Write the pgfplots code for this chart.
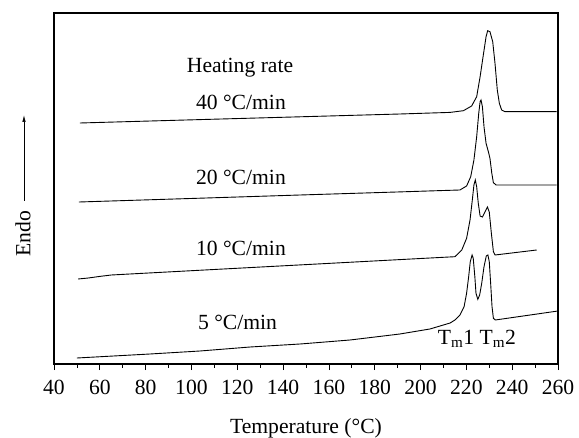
\documentclass[border=0pt]{standalone}
\usepackage{pgfplots}
\pgfplotsset{compat=1.18}
\usepackage{pgfplotstable}
\usepackage{fontspec}
\setmainfont{Liberation Serif}
\usetikzlibrary{arrows.meta}

% DSC melting endotherms at four heating rates (offset vertically)
\pgfplotstableread{
T y
51.3 241
103.7 244.4
147.4 247.2
191.0 250
212.9 251.6
218.7 253.3
222.3 258
224.5 267.3
226.0 287.3
227.4 309
228.6 327.3
229.3 333.3
230.3 332.3
231.5 322.3
232.5 300.7
233.5 274
234.4 260.7
235.4 254
236.9 252.3
259.4 252.3
}\rateforty

\pgfplotstableread{
T y
50.9 162
103.7 165.8
147.4 169
191.0 172.1
210 173.5
217.2 174
220.1 178
221.9 187.3
223.3 204
224.5 227.3
225.4 250.7
226.0 262.3
226.4 264
227.0 257.3
227.7 237.3
228.6 220.7
229.6 212.3
230.3 205.7
231.1 190.7
231.8 181.3
233.0 179
259.4 179
}\ratetwenty

\pgfplotstableread{
T y
50.5 85
55 86
60 87.6
65 89
100 93.3
150 99.4
200 105.5
215.0 107.3
218.0 114
220.1 125.7
221.6 144
222.6 164
223.3 179
223.9 184
224.5 177.3
225.2 160.7
226.0 148
227.0 147
228.1 152
229.2 157
230.0 152
230.9 131
231.8 112.3
232.5 109
250.7 114
}\rateten

\pgfplotstableread{
T y
50 6
81.9 10
103.7 13
125.6 17
147.4 20
169.2 24
191 30
204.1 35
212.9 41
215.0 44
217.2 49
219.0 57.3
220.1 70.7
221.0 87.3
221.7 102.3
222.5 109
223.0 105.7
223.7 87.3
224.2 70.7
225.0 64.7
225.8 69
226.7 80.7
227.7 97.3
228.7 108
229.4 109
230.0 102.3
230.6 80.7
231.2 57.3
231.8 45.7
232.6 44
260 53
}\ratefive

\begin{document}
\begin{tikzpicture}[font=\fontsize{21.7}{26}\selectfont]
\begin{axis}[
  scale only axis,
  width=504bp, height=351bp,
  xmin=40, xmax=260, ymin=0, ymax=351,
  xtick distance=20,
  minor x tick num=1,
  ytick=\empty,
  xtick pos=bottom,
  tick align=outside,
  major tick length=6bp,
  minor tick length=3.5bp,
  axis line style={line width=1.1bp},
  every tick/.style={black, line width=0.8bp},
  /pgf/number format/assume math mode=true,
  xticklabel style={font=\fontsize{21.7}{26}\selectfont, yshift=-7bp},
  xlabel={Temperature (°C)},
  xlabel style={font=\fontsize{21.7}{26}\selectfont,
    at={(axis description cs:0.5,0)}, anchor=base, yshift=-69bp},
  clip=false,
]
\addplot[black, line width=0.9bp] table[x=T, y=y] {\rateforty};
\addplot[black, line width=0.9bp] table[x=T, y=y] {\ratetwenty};
\addplot[black, line width=0.9bp] table[x=T, y=y] {\rateten};
\addplot[black, line width=0.9bp] table[x=T, y=y] {\ratefive};

\node at (axis cs:121.2,296) {Heating rate};
\node at (axis cs:121.6,262) {40 °C/min};
\node at (axis cs:121.6,187) {20 °C/min};
\node at (axis cs:121.6,116) {10 °C/min};
\node at (axis cs:120.1,42) {5 °C/min};
\node[anchor=base] at (axis cs:224.6,20) {T\textsubscript{m}1 T\textsubscript{m}2};

\node[rotate=90] at ([xshift=-31bp]axis cs:40,130.5) {Endo};
\draw[-{Latex[length=7bp,width=3.5bp]}, line width=0.7bp]
  ([xshift=-30bp]axis cs:40,163) -- ([xshift=-30bp]axis cs:40,249);

\coordinate (SW) at (rel axis cs:0,0);
\coordinate (NE) at (rel axis cs:1,1);
\end{axis}
\pgfresetboundingbox
\path ([shift={(-54bp,-74bp)}]SW) rectangle ([shift={(21bp,13bp)}]NE);
\end{tikzpicture}
\end{document}
